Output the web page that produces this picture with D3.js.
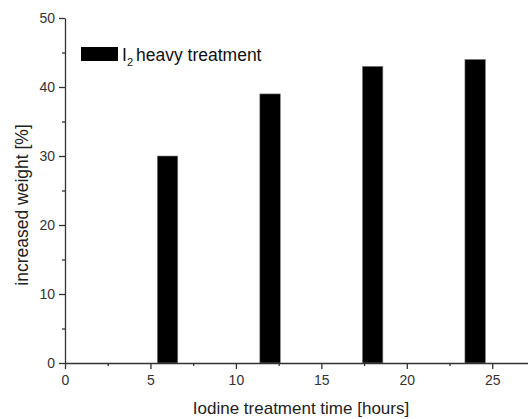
<!DOCTYPE html>
<html>
<head>
<meta charset="utf-8">
<script src="https://cdn.jsdelivr.net/npm/d3@7"></script>
<style>
  body { margin: 0; background: #fff; }
  svg { display: block; font-family: "Liberation Sans", Arial, sans-serif; }
  .axis path, .axis line { stroke: #333; stroke-width: 1.3px; }
  .axis text { fill: #333; font-size: 14px; }
</style>
</head>
<body>
<div id="chart"></div>
<script>
// DATA
const hours = [6, 12, 18, 24];
const weightGain = [30, 39, 43, 44];
const xTicks = [0, 5, 10, 15, 20, 25];
const xMinor = [2.5, 7.5, 12.5, 17.5, 22.5, 27.5];
const yTicks = [0, 10, 20, 30, 40, 50];
const yMinor = [5, 15, 25, 35, 45];

// SIZES
const width = 528;
const height = 419;
const margin = { top: 18, right: 0, bottom: 56, left: 65 };
const barWidth = 1.2; // in hours

const svg = d3.select('#chart').append('svg')
  .attr('width', width)
  .attr('height', height);

const x = d3.scaleLinear()
  .domain([0, 27.5])
  .range([margin.left, margin.left + 27.5 * 17.09]);

const y = d3.scaleLinear()
  .domain([0, 50])
  .range([height - margin.bottom, margin.top]);

// BARS
svg.selectAll('.bar')
  .data(hours.map((h, i) => ({ h, v: weightGain[i] })))
  .enter()
  .append('rect')
  .attr('class', 'bar')
  .attr('x', d => x(d.h - barWidth / 2))
  .attr('width', x(barWidth) - x(0))
  .attr('y', d => y(d.v))
  .attr('height', d => y(0) - y(d.v))
  .attr('fill', '#000')
  .attr('stroke', '#888')
  .attr('stroke-width', 0.6);

// AXES
const xAxis = svg.append('g')
  .attr('class', 'axis')
  .attr('transform', `translate(0,${y(0)})`)
  .call(d3.axisBottom(x).tickValues(xTicks).tickSize(6).tickSizeOuter(0).tickPadding(4));
xAxis.selectAll('text').attr('dy', '0.85em');

svg.append('g')
  .attr('class', 'axis')
  .attr('transform', `translate(0,${y(0)})`)
  .call(d3.axisBottom(x).tickValues(xMinor).tickSize(3).tickSizeOuter(0).tickFormat(''))
  .select('.domain').remove();

svg.append('g')
  .attr('class', 'axis')
  .attr('transform', `translate(${x(0)},0)`)
  .call(d3.axisLeft(y).tickValues(yTicks).tickSize(6).tickSizeOuter(0).tickPadding(4));

svg.append('g')
  .attr('class', 'axis')
  .attr('transform', `translate(${x(0)},0)`)
  .call(d3.axisLeft(y).tickValues(yMinor).tickSize(3).tickSizeOuter(0).tickFormat(''))
  .select('.domain').remove();

// AXIS TITLES
svg.append('text')
  .attr('x', 301)
  .attr('y', 414)
  .attr('text-anchor', 'middle')
  .style('font-size', '17px')
  .attr('fill', '#222')
  .text('Iodine treatment time [hours]');

svg.append('text')
  .attr('transform', 'translate(28,205) rotate(-90)')
  .attr('text-anchor', 'middle')
  .style('font-size', '17.5px')
  .attr('fill', '#222')
  .text('increased weight [%]');

// LEGEND
svg.append('rect')
  .attr('x', 81)
  .attr('y', 47)
  .attr('width', 37)
  .attr('height', 14)
  .attr('fill', '#000');

const legendText = svg.append('text')
  .attr('x', 122)
  .attr('y', 61)
  .style('font-size', '17.5px')
  .attr('fill', '#111');
legendText.append('tspan').text('I');
legendText.append('tspan')
  .attr('dy', 5)
  .style('font-size', '11px')
  .text('2');
legendText.append('tspan')
  .attr('dy', -5)
  .attr('dx', 3)
  .text('heavy treatment');
</script>
</body>
</html>
